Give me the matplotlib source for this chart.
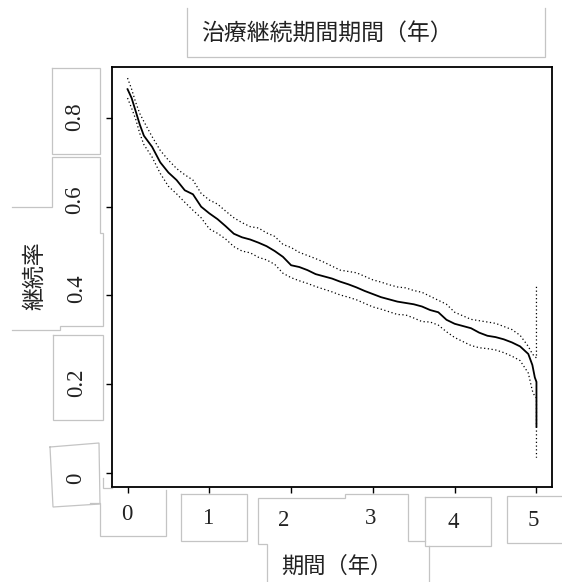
import matplotlib
matplotlib.use('Agg')
import matplotlib.pyplot as plt
from matplotlib.lines import Line2D

W, H, DPI = 562, 582, 100

title = "治療継続期間期間（年）"
xlabel = "期間（年）"
ylabel = "継続率"
xticks = [0, 1, 2, 3, 4, 5]
xtick_labels = ["0", "1", "2", "3", "4", "5"]
yticks = [0, 0.2, 0.4, 0.6, 0.8]
ytick_labels = ["0", "0.2", "0.4", "0.6", "0.8"]

time = [0.0, 0.05, 0.1, 0.15, 0.2, 0.3, 0.4, 0.5, 0.6, 0.7, 0.8, 0.9, 1.0,
        1.1, 1.2, 1.3, 1.4, 1.5, 1.6, 1.7, 1.8, 1.9, 2.0, 2.1, 2.2, 2.3, 2.4,
        2.5, 2.6, 2.7, 2.8, 2.9, 3.0, 3.1, 3.2, 3.3, 3.4, 3.5, 3.6, 3.7, 3.8,
        3.9, 4.0, 4.1, 4.2, 4.3, 4.4, 4.5, 4.6, 4.7, 4.8, 4.9, 4.95, 4.98,
        5.0, 5.0]
surv = [0.865, 0.845, 0.815, 0.785, 0.760, 0.735, 0.700, 0.677, 0.660, 0.637,
        0.628, 0.600, 0.585, 0.572, 0.556, 0.539, 0.531, 0.526, 0.519, 0.511,
        0.500, 0.487, 0.468, 0.464, 0.457, 0.448, 0.443, 0.438, 0.431, 0.425,
        0.418, 0.410, 0.403, 0.396, 0.391, 0.386, 0.383, 0.380, 0.375, 0.367,
        0.362, 0.345, 0.336, 0.331, 0.326, 0.316, 0.309, 0.306, 0.301, 0.294,
        0.285, 0.268, 0.243, 0.215, 0.205, 0.104]
upper = [0.890, 0.865, 0.835, 0.810, 0.792, 0.758, 0.727, 0.705, 0.686, 0.672,
         0.660, 0.630, 0.615, 0.606, 0.590, 0.575, 0.564, 0.555, 0.552, 0.541,
         0.533, 0.515, 0.508, 0.497, 0.490, 0.483, 0.475, 0.466, 0.457, 0.454,
         0.451, 0.443, 0.435, 0.430, 0.424, 0.419, 0.417, 0.411, 0.407, 0.398,
         0.389, 0.380, 0.362, 0.354, 0.346, 0.343, 0.340, 0.337, 0.330, 0.323,
         0.310, 0.285, 0.268, 0.262, 0.259, 0.424]
lower = [0.845, 0.822, 0.797, 0.765, 0.740, 0.712, 0.675, 0.646, 0.629, 0.610,
         0.592, 0.575, 0.550, 0.540, 0.527, 0.510, 0.500, 0.496, 0.486, 0.480,
         0.470, 0.450, 0.440, 0.433, 0.427, 0.420, 0.414, 0.408, 0.401, 0.396,
         0.390, 0.382, 0.374, 0.369, 0.363, 0.357, 0.356, 0.349, 0.341, 0.340,
         0.333, 0.318, 0.305, 0.296, 0.287, 0.282, 0.280, 0.277, 0.271, 0.263,
         0.253, 0.225, 0.185, 0.172, 0.169, 0.034]

CJK = ['Noto Sans CJK JP', 'DejaVu Sans']
SERIF = ['Liberation Serif', 'DejaVu Serif']
BOX = '#c4c4c4'
TXT = '#222222'

fig = plt.figure(figsize=(W / DPI, H / DPI), dpi=DPI)


def fx(x):
    return x / W


def fy(y):
    return 1 - y / H


ax = fig.add_axes([fx(112), fy(487), (552 - 112) / W, (487 - 67) / H])
ax.plot(time, surv, color='black', lw=1.3)
ax.plot(time, upper, color='black', lw=0.9, linestyle=(0, (1, 2)))
ax.plot(time, lower, color='black', lw=0.9, linestyle=(0, (1, 2)))
ax.set_xlim(-0.19, 5.19)
ax.set_ylim(-0.032, 0.915)
ax.set_xticks(xticks)
ax.set_xticklabels([])
ax.set_yticks(yticks)
ax.set_yticklabels([])
ax.tick_params(direction='out', length=4, width=1, color='black')
for s in ax.spines.values():
    s.set_linewidth(1.3)
    s.set_color('black')


def poly(pts):
    xs = [fx(p[0]) for p in pts]
    ys = [fy(p[1]) for p in pts]
    fig.add_artist(Line2D(xs, ys, transform=fig.transFigure, color=BOX,
                          lw=0.9, solid_joinstyle='miter'))


def rect(x0, y0, x1, y1):
    poly([(x0, y0), (x1, y0), (x1, y1), (x0, y1), (x0, y0)])


# title box (open at top)
poly([(187, 8), (187, 57), (545, 57), (545, 8)])
# y tick label boxes
rect(52, 68, 100, 154)
poly([(12, 207), (52, 207), (52, 157), (100, 157), (100, 233), (103, 233),
      (103, 326), (60, 326), (60, 330), (12, 330)])
rect(53, 335, 103, 420)
poly([(50, 447), (99, 443), (100, 504), (53, 507), (50, 447)])
poly([(103, 478), (103, 488), (112, 488)])
# x tick label boxes
poly([(90, 503), (100, 503), (100, 536), (166, 536), (166, 490)])
rect(181, 494, 247, 541)
poly([(267, 582), (267, 544), (258, 544), (258, 498), (345, 498), (345, 494),
      (408, 494), (408, 541), (425, 541)])
rect(425, 497, 491, 546)
poly([(429, 582), (429, 546)])
poly([(562, 496), (507, 496), (507, 543), (562, 543)])

# tick labels
ytick_pos = [(76, 478), (77, 383), (77, 289), (75, 200), (75, 117)]
for lab, (px, py) in zip(ytick_labels, ytick_pos):
    fig.text(fx(px), fy(py), lab, rotation=90, ha='center', va='center',
             fontsize=16.5, family=SERIF, color=TXT)
xtick_pos = [(127, 514), (208, 519), (284, 521), (371, 519), (453, 523),
             (533, 521)]
for lab, (px, py) in zip(xtick_labels, xtick_pos):
    fig.text(fx(px), fy(py), lab, ha='center', va='center',
             fontsize=16.5, family=SERIF, color=TXT)

fig.text(fx(327), fy(33), title, ha='center', va='center', fontsize=16.5,
         family=CJK, color=TXT)
fig.text(fx(35), fy(276), ylabel, rotation=90, ha='center', va='center',
         fontsize=16.5, family=CJK, color=TXT)
fig.text(fx(337), fy(566), xlabel, ha='center', va='center', fontsize=16,
         family=CJK, color=TXT)

fig.savefig('out.png', dpi=DPI)
